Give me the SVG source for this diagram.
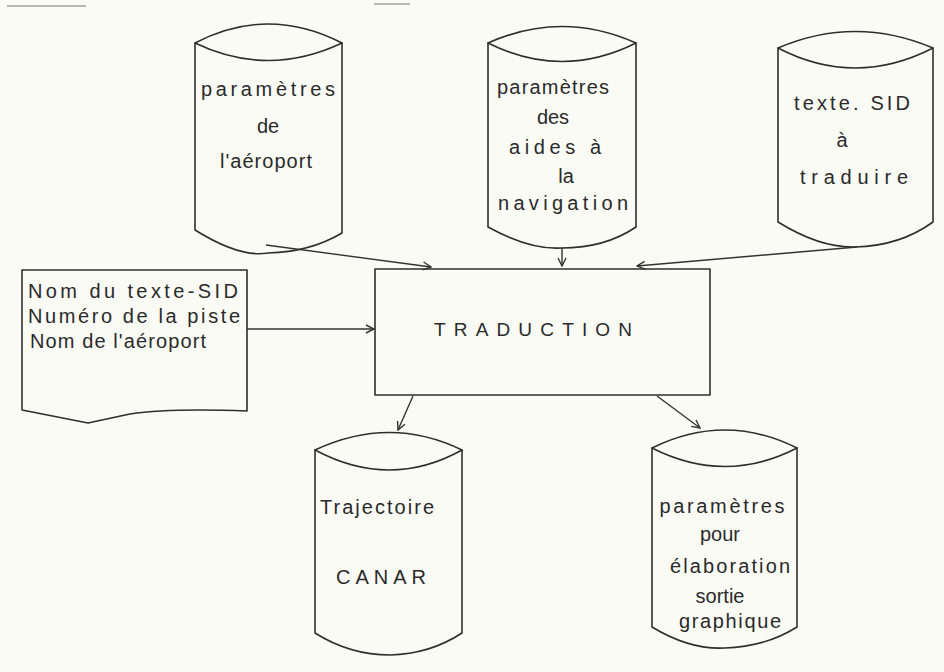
<svg xmlns="http://www.w3.org/2000/svg" width="944" height="672" viewBox="0 0 944 672">
<style>
.bg{fill:#fbfbf6}
.sh{fill:none;stroke:#2e2e2e;stroke-width:1.6;stroke-linejoin:round;stroke-linecap:round}
.ln{fill:none;stroke:#333;stroke-width:1.4}
.t{font-family:"Liberation Sans","DejaVu Sans",sans-serif;font-size:20px;fill:#2a2a2a;text-anchor:middle}
.tl{font-family:"Liberation Sans","DejaVu Sans",sans-serif;font-size:20px;fill:#2a2a2a}
.big{font-family:"Liberation Sans","DejaVu Sans",sans-serif;font-size:19px;fill:#2a2a2a;text-anchor:middle}
.mark{stroke:#b8b8b4;stroke-width:2;fill:none}
</style>
<defs>
<marker id="ah" viewBox="0 0 10 10" refX="9" refY="5" markerWidth="10" markerHeight="10" orient="auto" markerUnits="userSpaceOnUse">
<path d="M1,1 L9,5 L1,9" fill="none" stroke="#333" stroke-width="1.4"/>
</marker>
</defs>
<rect class="bg" x="0" y="0" width="944" height="672"/>
<line class="mark" x1="7" y1="6" x2="86" y2="6"/>
<line class="mark" x1="374" y1="4" x2="410" y2="4"/>

<g id="cyl-aeroport">
<path class="sh" d="M195,43 Q268,5 342,43 Q268,78 195,43 Z"/>
<path class="sh" d="M195,43 L195,230 Q240,258 268,253 Q310,252 342,233 L342,43"/>
<text class="t" x="268" y="96" textLength="134" lengthAdjust="spacing">paramètres</text>
<text class="t" x="268" y="133">de</text>
<text class="t" x="266" y="168" textLength="92" lengthAdjust="spacing">l'aéroport</text>
</g>

<g id="cyl-navigation">
<path class="sh" d="M488,43 Q562,10 636,43 Q562,80 488,43 Z"/>
<path class="sh" d="M488,43 L488,227 Q530,250 562,248 Q605,248 636,227 L636,43"/>
<text class="t" x="553" y="94" textLength="112" lengthAdjust="spacing">paramètres</text>
<text class="t" x="553" y="124">des</text>
<text class="t" x="555" y="154" textLength="92" lengthAdjust="spacing">aides à</text>
<text class="t" x="566" y="183">la</text>
<text class="t" x="563" y="210" textLength="130" lengthAdjust="spacing">navigation</text>
</g>

<g id="cyl-texte">
<path class="sh" d="M778,48 Q855,15 933,48 Q855,88 778,48 Z"/>
<path class="sh" d="M778,48 L778,222 Q820,248 855,247 Q900,246 933,222 L933,48"/>
<text class="t" x="852" y="110" textLength="116" lengthAdjust="spacing">texte. SID</text>
<text class="t" x="842" y="147">à</text>
<text class="t" x="854" y="184" textLength="108" lengthAdjust="spacing">traduire</text>
</g>

<g id="doc-entree">
<path class="sh" d="M22,270 L247,270 L247,411 Q170,408 130,414 L88,423 L22,410 Z"/>
<text class="tl" x="28" y="298" textLength="210" lengthAdjust="spacing">Nom du texte-SID</text>
<text class="tl" x="28" y="323" textLength="212" lengthAdjust="spacing">Numéro de la piste</text>
<text class="tl" x="30" y="348" textLength="176" lengthAdjust="spacing">Nom de l'aéroport</text>
</g>

<g id="traduction">
<rect class="sh" x="375" y="269" width="335" height="126"/>
<text class="big" x="533" y="336" textLength="198" lengthAdjust="spacing">TRADUCTION</text>
</g>

<g id="cyl-canar">
<path class="sh" d="M315,450 Q390,415 462,450 Q390,490 315,450 Z"/>
<path class="sh" d="M315,450 L315,633 Q350,655 390,655 Q430,654 462,633 L462,450"/>
<text class="tl" x="320" y="514" textLength="114" lengthAdjust="spacing">Trajectoire</text>
<text class="t" x="381" y="584" textLength="90" lengthAdjust="spacing">CANAR</text>
</g>

<g id="cyl-graphique">
<path class="sh" d="M652,448 Q725,412 797,448 Q725,485 652,448 Z"/>
<path class="sh" d="M652,448 L652,627 Q690,650 725,648 Q765,647 797,627 L797,448"/>
<text class="t" x="722" y="513" textLength="125" lengthAdjust="spacing">paramètres</text>
<text class="t" x="720" y="541">pour</text>
<text class="t" x="730" y="573" textLength="120" lengthAdjust="spacing">élaboration</text>
<text class="t" x="720" y="603">sortie</text>
<text class="t" x="730" y="628" textLength="102" lengthAdjust="spacing">graphique</text>
</g>

<g id="connectors">
<line class="ln" x1="266" y1="245" x2="431" y2="267" marker-end="url(#ah)"/>
<line class="ln" x1="562" y1="248" x2="562" y2="266" marker-end="url(#ah)"/>
<line class="ln" x1="857" y1="247" x2="637" y2="266" marker-end="url(#ah)"/>
<line class="ln" x1="247" y1="329" x2="374" y2="329" marker-end="url(#ah)"/>
<line class="ln" x1="413" y1="396" x2="398" y2="430" marker-end="url(#ah)"/>
<line class="ln" x1="657" y1="396" x2="700" y2="428" marker-end="url(#ah)"/>
</g>
</svg>
